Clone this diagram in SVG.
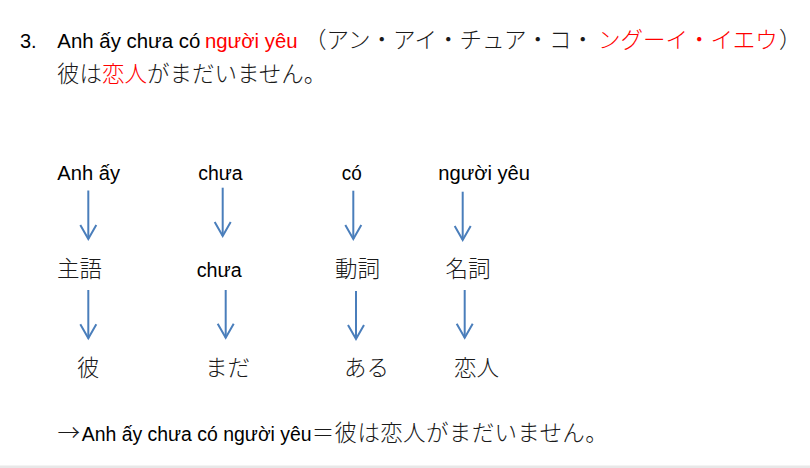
<svg xmlns="http://www.w3.org/2000/svg" width="810" height="468" viewBox="0 0 810 468">
  <style>
    .lat { font-family: "Liberation Sans", Arial, sans-serif; font-size: 20px; fill: #000; }
    .jp { font-family: "Noto Sans CJK JP", "Noto Sans CJK SC", sans-serif; font-size: 22.5px; font-weight: 300; fill: #1a1a1a; }
    .red { fill: #ff0000; }
    .arr { stroke: #4a7ebb; stroke-width: 2; fill: none; marker-end: url(#head); }
  </style>
  <defs>
    <marker id="head" markerUnits="userSpaceOnUse" viewBox="-16 -10 20 20" refX="0" refY="0" markerWidth="20" markerHeight="20" orient="auto" overflow="visible">
      <path d="M-14,-8 L0,0 L-14,8" fill="none" stroke="#4a7ebb" stroke-width="2"/>
    </marker>
  </defs>
  <rect x="0" y="0" width="810" height="468" fill="#ffffff"/>
  <rect x="0" y="465.5" width="810" height="2.5" fill="#e8e8e8"/>

  <g id="title">
    <text class="lat" x="20" y="48">3.</text>
    <text class="lat" x="57.3" y="48" textLength="143" lengthAdjust="spacingAndGlyphs">Anh ấy chưa có</text>
    <text class="lat red" x="205" y="48" textLength="92.5" lengthAdjust="spacingAndGlyphs">người yêu</text>
    <text class="jp" x="304" y="47.5">（アン・アイ・チュア・コ・</text>
    <text class="jp red" x="598" y="47.5">ングーイ・イエウ</text>
    <text class="jp" x="779" y="47.5">）</text>
    <text class="jp" x="57" y="81.5">彼は<tspan class="red">恋人</tspan>がまだいません。</text>
  </g>

  <g id="n-anhay"><text class="lat" x="57.3" y="179.5" textLength="62.7" lengthAdjust="spacingAndGlyphs">Anh ấy</text></g>
  <g id="n-chua"><text class="lat" x="198.3" y="179.5" textLength="44.4" lengthAdjust="spacingAndGlyphs">chưa</text></g>
  <g id="n-co"><text class="lat" x="341.7" y="179.5" textLength="20" lengthAdjust="spacingAndGlyphs">có</text></g>
  <g id="n-nguoiyeu"><text class="lat" x="438.3" y="179.5" textLength="91.7" lengthAdjust="spacingAndGlyphs">người yêu</text></g>

  <g id="n-shugo"><text class="jp" x="57" y="276.7">主語</text></g>
  <g id="n-chua2"><text class="lat" x="196.7" y="276.7" textLength="45" lengthAdjust="spacingAndGlyphs">chưa</text></g>
  <g id="n-doushi"><text class="jp" x="335" y="276.7">動詞</text></g>
  <g id="n-meishi"><text class="jp" x="445.5" y="276.7">名詞</text></g>

  <g id="n-kare"><text class="jp" x="77" y="376">彼</text></g>
  <g id="n-mada"><text class="jp" x="205" y="376">まだ</text></g>
  <g id="n-aru"><text class="jp" x="344" y="376">ある</text></g>
  <g id="n-koibito"><text class="jp" x="454" y="376">恋人</text></g>

  <g id="summary">
    <text class="jp" x="57.5" y="440.5">→</text>
    <text class="lat" x="81.7" y="440.5" textLength="230" lengthAdjust="spacingAndGlyphs">Anh ấy chưa có người yêu</text>
    <text class="jp" x="311.7" y="440.5" textLength="296" lengthAdjust="spacing">＝彼は恋人がまだいません。</text>
  </g>

  <g id="connectors">
    <path class="arr" d="M88.3,190.5 L88.3,239"/>
    <path class="arr" d="M222.7,187.7 L222.7,236"/>
    <path class="arr" d="M353.3,190.7 L353.3,239"/>
    <path class="arr" d="M462.7,191.7 L462.7,240"/>
    <path class="arr" d="M88.3,290 L88.3,338.3"/>
    <path class="arr" d="M225.7,290 L225.7,337.7"/>
    <path class="arr" d="M356,291 L356,339"/>
    <path class="arr" d="M464.7,290 L464.7,337.7"/>
  </g>
</svg>
